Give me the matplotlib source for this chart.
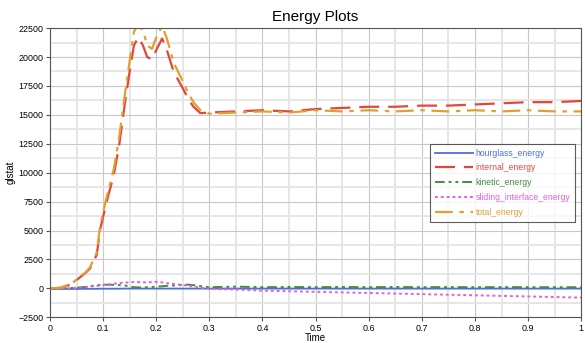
import matplotlib.pyplot as plt
from matplotlib.ticker import MultipleLocator, FuncFormatter

plt.rcParams['font.family'] = ['Liberation Sans', 'DejaVu Sans']

# time samples and energy curves
time = [0.0, 0.02, 0.04, 0.055, 0.066, 0.075, 0.088, 0.094, 0.105, 0.12, 0.13, 0.141, 0.151,
        0.158, 0.166, 0.175, 0.183, 0.192, 0.2, 0.211, 0.22, 0.233, 0.25, 0.26, 0.27, 0.283,
        0.3, 0.35, 0.4, 0.45, 0.5, 0.55, 0.6, 0.65, 0.7, 0.75, 0.8, 0.85, 0.9, 0.95, 1.0]

internal_energy = [0, 50, 350, 900, 1300, 1700, 2900, 5000, 7200, 9800, 12300, 16000, 19100,
                   21000, 21700, 21000, 20000, 19800, 20600, 21600, 20600, 18700, 17300, 16400, 15700, 15150,
                   15200, 15300, 15400, 15300, 15500, 15600, 15700, 15700, 15800, 15800, 15900, 16000, 16100, 16100, 16200]

total_energy = [0, 50, 380, 950, 1350, 1800, 3100, 5300, 7600, 10300, 13000, 16800, 20000,
                22200, 22800, 22300, 21000, 20700, 21700, 22700, 21600, 19500, 17900, 16900, 16100, 15400,
                15100, 15200, 15300, 15200, 15400, 15300, 15400, 15300, 15400, 15300, 15400, 15300, 15400, 15300, 15300]

kinetic_energy = [0, 0, 20, 80, 120, 200, 250, 300, 320, 300, 280, 250, 150,
                  100, 80, 90, 100, 120, 150, 180, 220, 250, 300, 320, 280, 200,
                  100, 150, 100, 120, 100, 120, 100, 120, 100, 110, 100, 110, 100, 100, 100]

sliding_interface_energy = [0, 0, 20, 60, 100, 150, 200, 250, 300, 400, 450, 500, 520,
                            550, 540, 520, 520, 540, 560, 520, 450, 380, 300, 220, 150, 80,
                            -50, -100, -200, -250, -300, -350, -400, -450, -500, -550, -600, -650, -700, -750, -800]

hourglass_energy = [-50, -50, -50, -50, -40, -40, -40, -30, -30, -30, -30, -20, -20,
                    -20, -20, -20, -20, -20, -20, -20, -20, -20, -20, -20, -20, -20,
                    -20, -20, -20, -20, -20, -20, -20, -20, -20, -20, -20, -20, -20, -20, -20]

fig = plt.figure(figsize=(5.85, 3.43), dpi=100)
ax = fig.add_axes([0.0855, 0.075, 0.908, 0.843])

ax.plot(time, hourglass_energy, color='#4a6fdc', lw=1.3, label='hourglass_energy')
ax.plot(time, internal_energy, color='#e0473a', lw=1.6, dashes=(9, 4), label='internal_energy')
ax.plot(time, kinetic_energy, color='#3f8f3f', lw=1.4, dashes=(5, 2, 1.5, 2, 1.5, 2), label='kinetic_energy')
ax.plot(time, sliding_interface_energy, color='#e060e0', lw=1.4, dashes=(1.5, 1.5), label='sliding_interface_energy')
ax.plot(time, total_energy, color='#e0a030', lw=1.6, dashes=(8, 3, 2, 3), label='total_energy')

ax.set_xlim(0, 1)
ax.set_ylim(-2500, 22500)
ax.xaxis.set_major_locator(MultipleLocator(0.1))
ax.xaxis.set_minor_locator(MultipleLocator(0.05))
ax.yaxis.set_major_locator(MultipleLocator(2500))
ax.yaxis.set_minor_locator(MultipleLocator(1250))
ax.xaxis.set_major_formatter(FuncFormatter(lambda v, p: '%g' % round(v, 2)))
ax.grid(which='major', color='#c8c8c8', lw=0.8)
ax.grid(which='minor', color='#e4e4e4', lw=1.3)
ax.set_axisbelow(True)
ax.tick_params(which='major', labelsize=6.4, length=3, pad=1.5, color='#555555')
ax.tick_params(which='minor', length=0)
for s in ax.spines.values():
    s.set_color('#555555')

ax.set_title('Energy Plots', fontsize=11, pad=5)
ax.set_xlabel('Time', fontsize=7, labelpad=0)
ax.set_ylabel('glstat', fontsize=7, labelpad=2)

leg = ax.legend(loc='upper left', bbox_to_anchor=(0.716, 0.6), fontsize=6.2, frameon=True,
                fancybox=False, edgecolor='#333333', borderpad=0.55, handlelength=4.4,
                labelspacing=0.68, handletextpad=0.3, borderaxespad=0)
leg.get_frame().set_linewidth(0.8)
for txt, line in zip(leg.get_texts(), leg.get_lines()):
    txt.set_color(line.get_color())

fig.savefig('out.png', dpi=100)
